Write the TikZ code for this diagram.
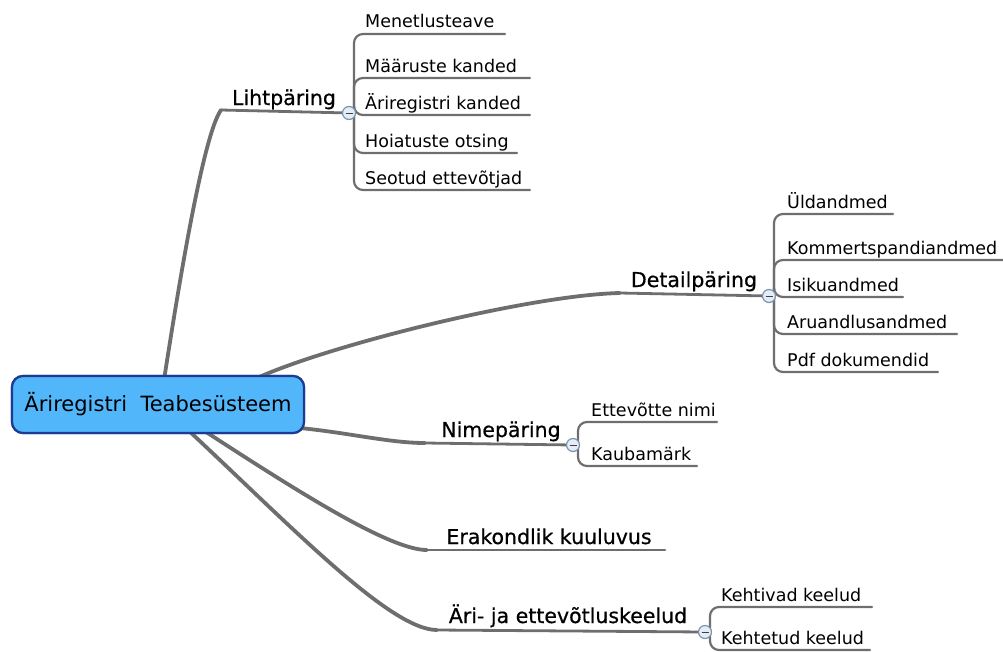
\documentclass[tikz,border=0pt]{standalone}
\usepackage{fontspec}
\setmainfont{DejaVu Sans}
\newfontfamily\branchfont[FakeBold=0.6]{DejaVu Sans}
\begin{document}
\begin{tikzpicture}[x=1pt,y=-1pt,
  mainline/.style={draw=linegray,line width=3.8pt,line cap=round},
  subline/.style={draw=linegray,line width=2.8pt,line cap=round},
  childline/.style={draw=linegray,line width=2.2pt,rounded corners=9pt,line cap=round},
  maintext/.style={anchor=base,inner sep=0pt,font=\branchfont\fontsize{20.5}{24}\selectfont},
  childtext/.style={anchor=base west,inner sep=0pt,font=\fontsize{17.5}{20}\selectfont},
  toggle/.style={circle,draw=togglerim,fill=togglefill,line width=1.2pt,minimum size=13pt,inner sep=0pt,
    path picture={\draw[black!75,line width=1pt] ([xshift=-3.5pt]path picture bounding box.center) -- ([xshift=3.5pt]path picture bounding box.center);}},
  centralbox/.style={draw=centdraw,fill=centfill,line width=2.2pt,rounded corners=11pt,minimum width=292pt,minimum height=57pt,
    inner sep=0pt,font=\fontsize{21}{25}\selectfont},
]
\definecolor{linegray}{HTML}{6E6E6E}
\definecolor{togglerim}{HTML}{7A94AE}
\definecolor{togglefill}{HTML}{E4EDF5}
\definecolor{centfill}{HTML}{52B6FA}
\definecolor{centdraw}{HTML}{1C3C92}
\useasboundingbox (0,0) rectangle (1003,651);

% central node
\node[centralbox] (central) at (158,404.5) {Äriregistri\ \ Teabesüsteem};

% start points on central node
\coordinate (s1) at (164,380);
\coordinate (s2) at (257,378);
\coordinate (s3) at (300,428);
\coordinate (s4) at (203,430);
\coordinate (s5) at (188,430);

% ---------- Lihtpäring ----------
\coordinate (a1) at (221,110);
\coordinate (c1) at (349,113);
\coordinate (b1) at (354,113);
\draw[mainline] (s1) .. controls (178,290) and (203,135) .. (a1);
\draw[subline] (a1) -- (c1);
\node[maintext] (t1) at (284,105) {Lihtpäring};
\coordinate (u11) at (505,34);
\coordinate (u12) at (530,78);
\coordinate (u13) at (530,115);
\coordinate (u14) at (517,153);
\coordinate (u15) at (530,190);
\draw[childline] (b1) |- (u11);
\draw[childline] (b1) |- (u12);
\draw[childline] (b1) |- (u13);
\draw[childline] (b1) |- (u14);
\draw[childline] (b1) |- (u15);
\node[childtext] (n11) at (365,27) {Menetlusteave};
\node[childtext] (n12) at (365,72) {Määruste kanded};
\node[childtext] (n13) at (365,109) {Äriregistri kanded};
\node[childtext] (n14) at (365,147) {Hoiatuste otsing};
\node[childtext] (n15) at (365,184) {Seotud ettevõtjad};
\node[toggle] (k1) at (c1) {};

% ---------- Detailpäring ----------
\coordinate (a2) at (620,293);
\coordinate (c2) at (769,296);
\coordinate (b2) at (774,296);
\draw[mainline] (s2) .. controls (330,345) and (530,295) .. (a2);
\draw[subline] (a2) -- (c2);
\node[maintext] (t2) at (694,287) {Detailpäring};
\coordinate (u21) at (893,214);
\coordinate (u22) at (1003,260);
\coordinate (u23) at (903,297);
\coordinate (u24) at (957,334);
\coordinate (u25) at (938,372);
\draw[childline] (b2) |- (u21);
\draw[childline] (b2) |- (u22);
\draw[childline] (b2) |- (u23);
\draw[childline] (b2) |- (u24);
\draw[childline] (b2) |- (u25);
\node[childtext] (n21) at (787,208) {Üldandmed};
\node[childtext] (n22) at (787,254) {Kommertspandiandmed};
\node[childtext] (n23) at (787,291) {Isikuandmed};
\node[childtext] (n24) at (787,328) {Aruandlusandmed};
\node[childtext] (n25) at (787,366) {Pdf dokumendid};
\node[toggle] (k2) at (c2) {};

% ---------- Nimepäring ----------
\coordinate (a3) at (425,443);
\coordinate (c3) at (573,445);
\coordinate (b3) at (578,445);
\draw[mainline] (s3) .. controls (350,433) and (390,443) .. (a3);
\draw[subline] (a3) -- (c3);
\node[maintext] (t3) at (501,437) {Nimepäring};
\coordinate (u31) at (717,422);
\coordinate (u32) at (697,466);
\draw[childline] (b3) |- (u31);
\draw[childline] (b3) |- (u32);
\node[childtext] (n31) at (591,416) {Ettevõtte nimi};
\node[childtext] (n32) at (591,460) {Kaubamärk};
\node[toggle] (k3) at (c3) {};

% ---------- Erakondlik kuuluvus ----------
\coordinate (a4) at (427,550);
\coordinate (e4) at (665,550);
\draw[mainline] (s4) .. controls (300,493) and (390,550) .. (a4);
\draw[subline] (a4) -- (e4);
\node[maintext] (t4) at (549,544) {Erakondlik kuuluvus};

% ---------- Äri- ja ettevõtluskeelud ----------
\coordinate (a5) at (437,630);
\coordinate (c5) at (705,632);
\coordinate (b5) at (710,632);
\draw[mainline] (s5) .. controls (290,525) and (390,630) .. (a5);
\draw[subline] (a5) -- (c5);
\node[maintext] (t5) at (568,623) {Äri- ja ettevõtluskeelud};
\coordinate (u51) at (872,607);
\coordinate (u52) at (870,650);
\draw[childline] (b5) |- (u51);
\draw[childline] (b5) |- (u52);
\node[childtext] (n51) at (721,601) {Kehtivad keelud};
\node[childtext] (n52) at (721,644) {Kehtetud keelud};
\node[toggle] (k5) at (c5) {};

% central node drawn again on top of the connectors
\node[centralbox] at (central.center) {Äriregistri\ \ Teabesüsteem};
\end{tikzpicture}
\end{document}
